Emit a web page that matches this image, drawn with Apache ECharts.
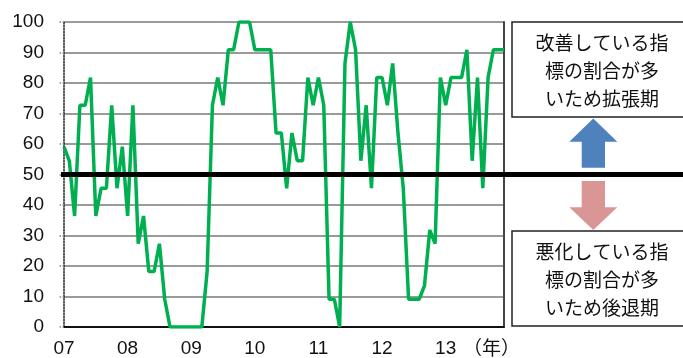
<!DOCTYPE html>
<html>
<head>
<meta charset="utf-8">
<script src="https://cdn.jsdelivr.net/npm/echarts@6/dist/echarts.min.js"></script>
<style>
  html, body { margin: 0; padding: 0; background: #fff; }
  #chart { width: 683px; height: 358px; }
</style>
</head>
<body>
<div id="chart"></div>
<script>
// 年ラベル（1月の位置に表示）
const yearLabels = ['07', '08', '09', '10', '11', '12', '13'];

// 月次の指数（2007年1月～2013年12月）
const diValues = [
  59.1, 54.5, 36.4, 72.7, 72.7, 81.8, 36.4, 45.5, 45.5, 72.7, 45.5, 59.1,
  36.4, 72.7, 27.3, 36.4, 18.2, 18.2, 27.3, 9.1, 0, 0, 0, 0,
  0, 0, 0, 18.2, 72.7, 81.8, 72.7, 90.9, 90.9, 100, 100, 100,
  90.9, 90.9, 90.9, 90.9, 63.6, 63.6, 45.5, 63.6, 54.5, 54.5, 81.8, 72.7,
  81.8, 72.7, 9.1, 9.1, 0, 86.4, 100, 90.9, 54.5, 72.7, 45.5, 81.8,
  81.8, 72.7, 86.4, 63.6, 45.5, 9.1, 9.1, 9.1, 13.6, 31.8, 27.3, 81.8,
  72.7, 81.8, 81.8, 81.8, 90.9, 54.5, 81.8, 45.5, 81.8, 90.9, 90.9, 90.9
];

const yTicks = { min: 0, max: 100, interval: 10 };
const boundaryValue = 50;

const upText = '改善している指\n標の割合が多\nいため拡張期';
const downText = '悪化している指\n標の割合が多\nいため後退期';

// カテゴリ：各年の1月にだけラベル
const categories = [];
yearLabels.forEach(y => {
  for (let m = 1; m <= 12; m++) categories.push(m === 1 ? y : '');
});

const chart = echarts.init(document.getElementById('chart'));
const latin = '"Liberation Sans", Arial, sans-serif';
const cjk = '"Noto Sans CJK JP", sans-serif';

chart.setOption({
  animation: false,
  grid: { left: 64, right: 179, top: 22, bottom: 30, containLabel: false },
  xAxis: [{
    type: 'category',
    data: categories,
    boundaryGap: false,
    axisLine: { lineStyle: { color: '#999', width: 2 } },
    axisTick: { show: false },
    axisLabel: {
      interval: 0, margin: 12, fontSize: 19, color: '#111', fontFamily: latin,
      formatter: v => v
    },
    splitLine: { show: false }
  }, {
    type: 'category',
    data: categories,
    boundaryGap: false,
    position: 'top',
    axisLine: { lineStyle: { color: '#111', width: 2 } },
    axisTick: { show: false },
    axisLabel: { show: false }
  }],
  yAxis: [{
    type: 'value',
    min: yTicks.min, max: yTicks.max, interval: yTicks.interval,
    axisLine: { show: true, lineStyle: { color: '#222', width: 1.5, type: 'dotted' } },
    axisTick: { show: true, length: 6, lineStyle: { color: '#888', type: 'dotted', width: 1.5 } },
    axisLabel: { margin: 20, fontSize: 19, color: '#111', fontFamily: latin },
    splitLine: { lineStyle: { color: '#9a9a9a', width: 2 } }
  }, {
    type: 'value',
    position: 'right',
    min: yTicks.min, max: yTicks.max, interval: yTicks.interval,
    axisLine: { show: true, lineStyle: { color: '#444', width: 2 } },
    axisTick: { show: false },
    axisLabel: { show: false },
    splitLine: { show: false }
  }],
  series: [{
    type: 'line',
    data: diValues,
    symbol: 'none',
    lineStyle: { color: '#00b050', width: 3.5 },
    z: 3
  }]
});

// 50 の境界線・説明ボックス・矢印
const y50 = chart.convertToPixel({ yAxisIndex: 0 }, boundaryValue);
const x0 = chart.convertToPixel({ xAxisIndex: 0 }, 0);

chart.setOption({
  graphic: [
    { type: 'line', shape: { x1: x0 - 3, y1: y50, x2: 683, y2: y50 },
      style: { stroke: '#000', lineWidth: 5 }, z: 10 },
    { type: 'rect', shape: { x: 512, y: 22, width: 180, height: 95 },
      style: { fill: '#fff', stroke: '#222', lineWidth: 1.5 }, z: 10 },
    { type: 'text', x: 602, y: 71, z: 11,
      style: { text: upText, font: '19px ' + cjk, fill: '#111', align: 'center',
               verticalAlign: 'middle', lineHeight: 28 } },
    { type: 'rect', shape: { x: 512, y: 231, width: 180, height: 95 },
      style: { fill: '#fff', stroke: '#222', lineWidth: 1.5 }, z: 10 },
    { type: 'text', x: 602, y: 280, z: 11,
      style: { text: downText, font: '19px ' + cjk, fill: '#111', align: 'center',
               verticalAlign: 'middle', lineHeight: 28 } },
    { type: 'polygon', z: 10,
      shape: { points: [[593.3, 118.5], [617.3, 141.7], [605, 141.7], [605, 167.7],
                        [581.7, 167.7], [581.7, 141.7], [569.3, 141.7]] },
      style: { fill: '#4f81bd' } },
    { type: 'polygon', z: 10,
      shape: { points: [[581.7, 181], [605, 181], [605, 207.3], [617.3, 207.3],
                        [593.3, 230], [569.3, 207.3], [581.7, 207.3]] },
      style: { fill: '#d99694' } },
    { type: 'text', x: 463, y: 348, z: 11,
      style: { text: '（年）', font: '19px ' + cjk, fill: '#111', align: 'left',
               verticalAlign: 'middle' } }
  ]
});
</script>
</body>
</html>
